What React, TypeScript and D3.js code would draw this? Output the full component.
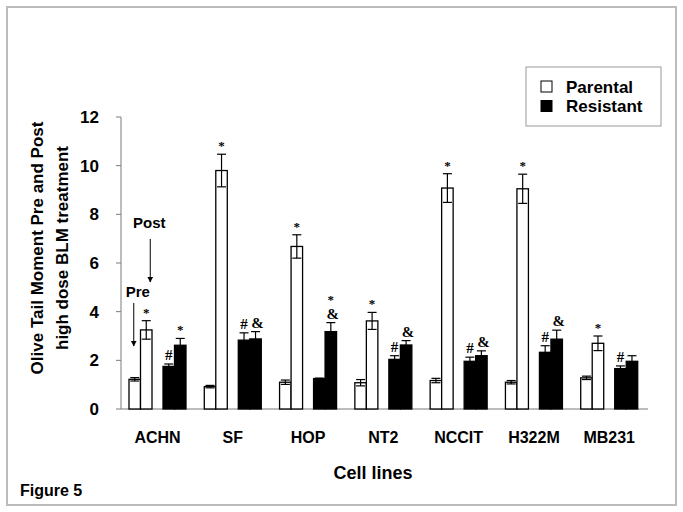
import React from "react";
import * as d3 from "d3";

const categories = ["ACHN", "SF", "HOP", "NT2", "NCCIT", "H322M", "MB231"];
const groups = ["Parental", "Resistant"];
const phases = ["Pre", "Post"];

const parentalPre = [1.22, 0.92, 1.1, 1.08, 1.17, 1.1, 1.28];
const parentalPreErr = [0.07, 0.05, 0.09, 0.13, 0.09, 0.07, 0.07];
const parentalPost = [3.25, 9.8, 6.68, 3.62, 9.08, 9.05, 2.7];
const parentalPostErr = [0.38, 0.67, 0.48, 0.35, 0.59, 0.6, 0.3];
const resistantPre = [1.75, 2.83, 1.25, 2.04, 1.96, 2.33, 1.66];
const resistantPreErr = [0.1, 0.3, 0.02, 0.15, 0.17, 0.27, 0.11];
const resistantPost = [2.62, 2.88, 3.18, 2.63, 2.19, 2.87, 1.96];
const resistantPostErr = [0.28, 0.3, 0.37, 0.18, 0.2, 0.37, 0.23];

const parentalPreMarks: string[][] = [[], [], [], [], [], [], []];
const parentalPostMarks: string[][] = [["*"], ["*"], ["*"], ["*"], ["*"], ["*"], ["*"]];
const resistantPreMarks: string[][] = [["#"], ["#"], [], ["#"], ["#"], ["#"], ["#"]];
const resistantPostMarks: string[][] = [["*"], ["&"], ["&", "*"], ["&"], ["&"], ["&"], []];

const yTicks = [0, 2, 4, 6, 8, 10, 12];

const yTitle1 = "Olive Tail Moment Pre and Post";
const yTitle2 = "high dose BLM treatment";
const xTitle = "Cell lines";
const figLabel = "Figure 5";

const W = 683;
const H = 512;
const SANS = "'Liberation Sans', Arial, sans-serif";
const SERIF = "'Liberation Serif', 'Times New Roman', serif";
const AXIS = "#7a7a7a";

type Bar = {
  cat: string;
  group: string;
  phase: string;
  value: number;
  err: number;
  marks: string[];
};

export default function App() {
  const x0 = d3.scaleBand<string>().domain(categories).range([121, 648]);
  const xg = d3.scaleBand<string>().domain(groups).range([8, 65]).paddingInner(11 / 34);
  const xp = d3.scaleBand<string>().domain(phases).range([0, xg.bandwidth()]);
  const y = d3.scaleLinear().domain([0, 12]).range([409, 117]);

  const bars: Bar[] = [];
  categories.forEach((c, i) => {
    bars.push({ cat: c, group: "Parental", phase: "Pre", value: parentalPre[i], err: parentalPreErr[i], marks: parentalPreMarks[i] });
    bars.push({ cat: c, group: "Parental", phase: "Post", value: parentalPost[i], err: parentalPostErr[i], marks: parentalPostMarks[i] });
    bars.push({ cat: c, group: "Resistant", phase: "Pre", value: resistantPre[i], err: resistantPreErr[i], marks: resistantPreMarks[i] });
    bars.push({ cat: c, group: "Resistant", phase: "Post", value: resistantPost[i], err: resistantPostErr[i], marks: resistantPostMarks[i] });
  });

  const bw = xp.bandwidth();
  const capHalf = 4.5;
  const groupCenter = (c: string) => (x0(c) ?? 0) + 8 + 57 / 2;

  const achnPostX = (x0("ACHN") ?? 0) + (xg("Parental") ?? 0) + (xp("Post") ?? 0) + bw / 2;
  const achnPreX = (x0("ACHN") ?? 0) + (xg("Parental") ?? 0) + (xp("Pre") ?? 0) + bw / 2;

  return (
    <svg width={W} height={H} style={{ position: "absolute", left: 0, top: 0, background: "#fff" }}>
      <defs>
        <marker id="arr" viewBox="0 0 10 10" refX="9" refY="5" markerWidth="6" markerHeight="7" orient="auto">
          <path d="M0,0 L10,5 L0,10 z" fill="#000" />
        </marker>
      </defs>
      <rect x={0} y={0} width={W} height={H} fill="#fff" />
      <rect x={7} y={7} width={669} height={498} fill="none" stroke="#bcbcbc" strokeWidth={2} />

      {/* axes */}
      <line x1={121} x2={121} y1={y(12)} y2={y(0)} stroke={AXIS} strokeWidth={1} />
      <line x1={121} x2={648} y1={y(0)} y2={y(0)} stroke={AXIS} strokeWidth={1} />
      {yTicks.map((t) => (
        <g key={t}>
          <line x1={116} x2={121} y1={y(t)} y2={y(t)} stroke={AXIS} strokeWidth={1} />
          <text x={99} y={y(t)} dy="0.36em" textAnchor="end" fontFamily={SANS} fontWeight="bold" fontSize={17} fill="#000">
            {t}
          </text>
        </g>
      ))}

      {/* bars */}
      {bars.map((b, i) => {
        const bx = (x0(b.cat) ?? 0) + (xg(b.group) ?? 0) + (xp(b.phase) ?? 0);
        const cx = bx + bw / 2;
        const top = y(b.value);
        const capTop = y(b.value + b.err);
        const capBot = y(b.value - b.err);
        const fill = b.group === "Parental" ? "#fff" : "#000";
        return (
          <g key={i}>
            <rect x={bx} y={top} width={bw} height={y(0) - top} fill={fill} stroke="#000" strokeWidth={1.3} />
            <line x1={cx} x2={cx} y1={capTop} y2={capBot} stroke="#000" strokeWidth={1.2} />
            <line x1={cx - capHalf} x2={cx + capHalf} y1={capTop} y2={capTop} stroke="#000" strokeWidth={1.2} />
            <line x1={cx - capHalf} x2={cx + capHalf} y1={capBot} y2={capBot} stroke="#000" strokeWidth={1.2} />
            {b.marks.map((m, k) => (
              <text
                key={k}
                x={cx + (m === "&" ? 2 : 0)}
                y={capTop - 4 - k * 15}
                textAnchor="middle"
                fontFamily={SERIF}
                fontWeight="bold"
                fontSize={m === "*" ? 13 : 15}
                fill="#000"
              >
                {m}
              </text>
            ))}
          </g>
        );
      })}

      {/* Pre / Post annotations */}
      <text x={achnPostX + 3} y={228} textAnchor="middle" fontFamily={SANS} fontWeight="bold" fontSize={15} fill="#000">
        Post
      </text>
      <line x1={achnPostX + 4} x2={achnPostX + 4} y1={239} y2={282} stroke="#000" strokeWidth={1} markerEnd="url(#arr)" />
      <text x={achnPreX + 3} y={297} textAnchor="middle" fontFamily={SANS} fontWeight="bold" fontSize={15} fill="#000">
        Pre
      </text>
      <line x1={achnPreX - 1} x2={achnPreX - 1} y1={303} y2={346} stroke="#000" strokeWidth={1} markerEnd="url(#arr)" />

      {/* category labels */}
      {categories.map((c) => (
        <text key={c} x={groupCenter(c)} y={437} dy="0.36em" textAnchor="middle" fontFamily={SANS} fontWeight="bold" fontSize={16} fill="#000">
          {c}
        </text>
      ))}

      {/* axis titles */}
      <text x={373} y={473} dy="0.36em" textAnchor="middle" fontFamily={SANS} fontWeight="bold" fontSize={18} fill="#000">
        {xTitle}
      </text>
      <g transform="translate(37,248) rotate(-90)">
        <text x={0} y={0} dy="0.36em" textAnchor="middle" fontFamily={SANS} fontWeight="bold" fontSize={17} fill="#000">
          {yTitle1}
        </text>
      </g>
      <g transform="translate(62,248) rotate(-90)">
        <text x={0} y={0} dy="0.36em" textAnchor="middle" fontFamily={SANS} fontWeight="bold" fontSize={17} fill="#000">
          {yTitle2}
        </text>
      </g>
      <text x={20} y={496} fontFamily={SANS} fontWeight="bold" fontSize={16} fill="#000">
        {figLabel}
      </text>

      {/* legend */}
      <rect x={526} y={67} width={135} height={59} fill="#fff" stroke="#999" strokeWidth={1} />
      {groups.map((g, i) => (
        <g key={g}>
          <rect x={541} y={81 + i * 19.5} width={11} height={11} fill={g === "Parental" ? "#fff" : "#000"} stroke="#000" strokeWidth={1} />
          <text x={566} y={86.5 + i * 19.5} dy="0.36em" fontFamily={SANS} fontWeight="bold" fontSize={17} fill="#000">
            {g}
          </text>
        </g>
      ))}
    </svg>
  );
}
